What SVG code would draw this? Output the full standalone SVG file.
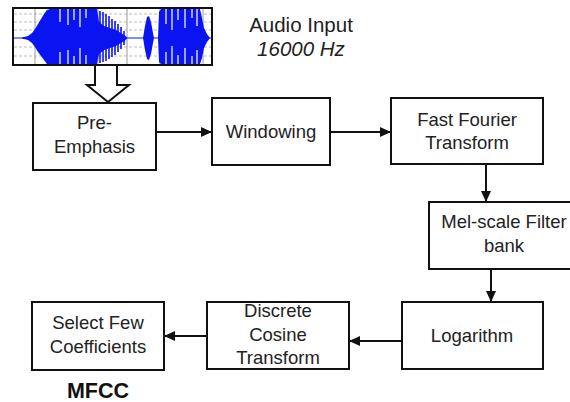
<svg xmlns="http://www.w3.org/2000/svg" width="570" height="402" viewBox="0 0 570 402">
<defs>
<style>
.box{fill:#fff;stroke:#111;stroke-width:2}
.t{font-family:"Liberation Sans",Arial,sans-serif;font-size:18.5px;fill:#222;text-anchor:middle}
.title{font-family:"Liberation Sans",Arial,sans-serif;font-size:20.5px;fill:#222;text-anchor:middle}
.con{fill:none;stroke:#111;stroke-width:2}
.grid{stroke:#bbb;stroke-width:1;stroke-dasharray:3 2}
.vgrid{stroke:#999;stroke-width:1}
.wave{fill:#0a14f0}
.spk{stroke:#0a14f0;stroke-width:1.6}
.gap{stroke:#fff;stroke-width:1.2}
</style>
<marker id="ah" markerUnits="userSpaceOnUse" markerWidth="12" markerHeight="10" refX="11" refY="5" orient="auto">
<path d="M0,0 L11,5 L0,10 Z" fill="#111"/>
</marker>
</defs>

<g id="audio-input">
<rect x="13" y="8" width="199" height="57" fill="#fff"/>
<g class="grid">
<line x1="14" y1="14" x2="211" y2="14"/>
<line x1="14" y1="22" x2="211" y2="22"/>
<line x1="14" y1="30" x2="211" y2="30"/>
<line x1="14" y1="47" x2="211" y2="47"/>
<line x1="14" y1="56" x2="211" y2="56"/>
</g>
<g class="vgrid">
<line x1="35" y1="9" x2="35" y2="64"/>
<line x1="66" y1="9" x2="66" y2="64"/>
<line x1="98" y1="9" x2="98" y2="64"/>
<line x1="127" y1="9" x2="127" y2="64"/>
<line x1="160" y1="9" x2="160" y2="64"/>
<line x1="203" y1="9" x2="203" y2="64"/>
</g>
<line x1="14" y1="38" x2="211" y2="38" stroke="#0a14f0" stroke-width="1"/>
<polygon class="wave" points="22,37.5 28,36 32,33 35,29 38,24 41,19 44,14 47,10 50,9 97,9 99,22 104,26 110,28 116,30 121,33 125,35.5 127,37.5 127,38.5 125,40.5 121,43 116,46 110,48 104,50 99,54 97,64 50,64 47,64 44,60 41,56 38,52 35,47 32,43 28,40 22,38.5"/>
<g class="spk">
<line x1="100" y1="11" x2="100" y2="63"/>
<line x1="103" y1="12" x2="103" y2="62"/>
<line x1="106" y1="14" x2="106" y2="61"/>
<line x1="109" y1="16" x2="109" y2="59"/>
<line x1="112" y1="19" x2="112" y2="57"/>
<line x1="115" y1="21" x2="115" y2="55"/>
<line x1="118" y1="24" x2="118" y2="52"/>
<line x1="121" y1="27" x2="121" y2="49"/>
<line x1="124" y1="31" x2="124" y2="45"/>
</g>
<polygon class="wave" points="143,38 145,26 147,17 149,16 151,22 153,33 154,38 153,43 151,54 149,60 147,59 145,50"/>
<polygon class="wave" points="158,38 159,12 161,9 200,9 202,18 204,28 207,34 210,38 207,42 204,48 202,58 200,64 161,64 159,62"/>
<g class="gap">
<line x1="60" y1="9" x2="60" y2="22"/>
<line x1="68" y1="9" x2="68" y2="25"/>
<line x1="74" y1="9" x2="74" y2="20"/>
<line x1="80" y1="9" x2="80" y2="27"/>
<line x1="86" y1="9" x2="86" y2="18"/>
<line x1="60" y1="52" x2="60" y2="64"/>
<line x1="68" y1="50" x2="68" y2="64"/>
<line x1="74" y1="56" x2="74" y2="64"/>
<line x1="80" y1="48" x2="80" y2="64"/>
<line x1="86" y1="55" x2="86" y2="64"/>
<line x1="166" y1="9" x2="166" y2="24"/>
<line x1="172" y1="9" x2="172" y2="30"/>
<line x1="178" y1="9" x2="178" y2="20"/>
<line x1="185" y1="9" x2="185" y2="28"/>
<line x1="192" y1="9" x2="192" y2="18"/>
<line x1="197" y1="9" x2="197" y2="26"/>
<line x1="166" y1="52" x2="166" y2="64"/>
<line x1="172" y1="46" x2="172" y2="64"/>
<line x1="178" y1="55" x2="178" y2="64"/>
<line x1="185" y1="48" x2="185" y2="64"/>
<line x1="192" y1="56" x2="192" y2="64"/>
<line x1="197" y1="50" x2="197" y2="64"/>
</g>
<rect x="13" y="8" width="199" height="57" fill="none" stroke="#111" stroke-width="2"/>
<text class="title" x="301" y="32">Audio Input</text>
<text class="title" x="301" y="56" font-style="italic">16000 Hz</text>
</g>

<g id="pre-emphasis">
<rect class="box" x="33" y="103" width="123" height="67"/>
<text class="t" x="94.5" y="129">Pre-</text>
<text class="t" x="94.5" y="153">Emphasis</text>
</g>

<g id="windowing">
<rect class="box" x="212" y="98" width="118" height="67"/>
<text class="t" x="271" y="138">Windowing</text>
</g>

<g id="fft">
<rect class="box" x="391" y="98" width="152" height="66"/>
<text class="t" x="467" y="126">Fast Fourier</text>
<text class="t" x="467" y="149">Transform</text>
</g>

<g id="mel">
<rect class="box" x="429" y="202" width="152" height="67"/>
<text class="t" x="504" y="228">Mel-scale Filter</text>
<text class="t" x="504" y="252">bank</text>
</g>

<g id="logarithm">
<rect class="box" x="402" y="302" width="141" height="67"/>
<text class="t" x="472" y="342">Logarithm</text>
</g>

<g id="dct">
<rect class="box" x="207" y="302" width="142" height="67"/>
<text class="t" x="278" y="317">Discrete</text>
<text class="t" x="278" y="341">Cosine</text>
<text class="t" x="278" y="364">Transform</text>
</g>

<g id="select">
<rect class="box" x="32" y="302" width="132" height="68"/>
<text class="t" x="98" y="329">Select Few</text>
<text class="t" x="98" y="353">Coefficients</text>
<text x="98" y="398" font-family="'Liberation Sans',Arial,sans-serif" font-size="21.5" font-weight="bold" fill="#111" text-anchor="middle">MFCC</text>
</g>

<g id="connectors">
<polygon points="95,65 117,65 117,85 129,85 108,102 87,85 95,85" fill="#fff" stroke="#111" stroke-width="2" stroke-linejoin="miter"/>
<line class="con" x1="156" y1="132" x2="212" y2="132" marker-end="url(#ah)"/>
<line class="con" x1="330" y1="132" x2="391" y2="132" marker-end="url(#ah)"/>
<line class="con" x1="486" y1="164" x2="486" y2="202" marker-end="url(#ah)"/>
<line class="con" x1="491" y1="269" x2="491" y2="302" marker-end="url(#ah)"/>
<line class="con" x1="402" y1="341" x2="349" y2="341" marker-end="url(#ah)"/>
<line class="con" x1="207" y1="336" x2="164" y2="336" marker-end="url(#ah)"/>
</g>
</svg>
